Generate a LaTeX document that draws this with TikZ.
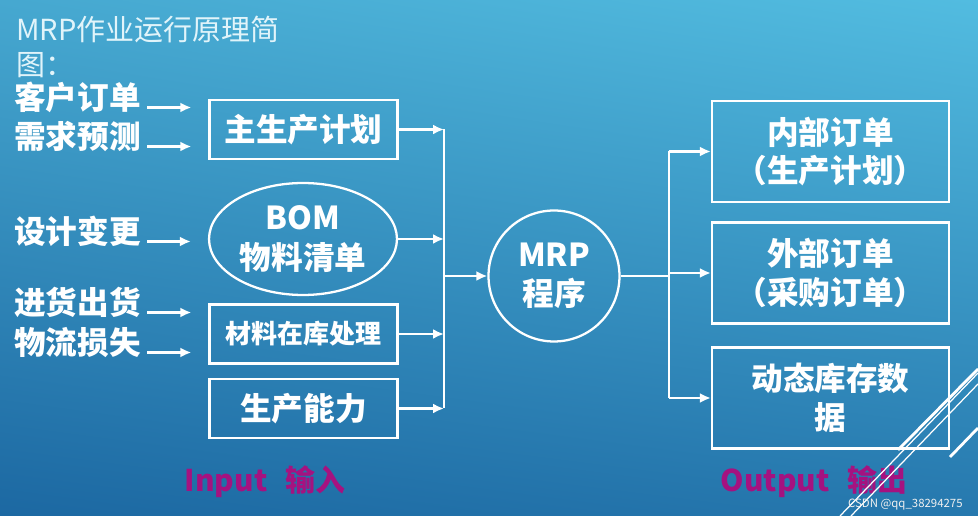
\documentclass[tikz,border=0pt]{standalone}
\usepackage{fontspec}
\setmainfont{Noto Sans CJK SC}
\usetikzlibrary{arrows.meta,shapes.geometric,shadings,positioning}
\definecolor{bgul}{RGB}{70,168,208}
\definecolor{bgur}{RGB}{82,188,224}
\definecolor{bgll}{RGB}{28,104,162}
\definecolor{bglr}{RGB}{38,120,174}
\definecolor{inout}{RGB}{165,18,128}
\definecolor{titlecol}{RGB}{225,244,250}

\begin{document}
\begin{tikzpicture}[x=0.02cm,y=-0.02cm,
    every node/.style={text=white},
    lbl/.style={inner sep=0pt,font=\bfseries\fontsize{18}{20}\selectfont},
    blk/.style={draw=white,line width=1.3pt,minimum width=3.76cm,minimum height=1.18cm,
      inner sep=0pt,align=center,font=\bfseries\fontsize{18}{23}\selectfont},
    outblk/.style={blk,minimum width=4.74cm,minimum height=2.02cm,
      font=\bfseries\fontsize{18}{22}\selectfont},
    arr/.style={draw=white,line width=1.3pt,-{Latex[length=2.2mm,width=2mm]}},
    wire/.style={draw=white,line width=1.3pt},
    side/.style={text=inout,font=\bfseries\fontsize{17}{20}\selectfont}]
  \shade[upper left=bgul,upper right=bgur,lower left=bgll,lower right=bglr]
    (0,0) rectangle (978,516);
  \useasboundingbox (0,0) rectangle (978,516);

  \node[anchor=north west,align=left,inner sep=0pt,text=titlecol,
    font=\fontsize{16.5}{19.5}\selectfont] (title) at (16,16) {MRP作业运行原理简\\图：};

  % inputs
  \node[lbl,anchor=base west] (ord) at (14,110) {客户订单};
  \node[lbl,anchor=base west] (fc) at (14,149) {需求预测};
  \node[lbl,anchor=base west] (chg) at (14,244) {设计变更};
  \node[lbl,anchor=base west] (ship) at (14,315) {进货出货};
  \node[lbl,anchor=base west] (loss) at (14,355) {物流损失};

  \node[blk] (mps) at (303.5,129.5) {主生产计划};
  \node[blk,ellipse,minimum height=2.24cm] (bom) at (303,239) {BOM\\物料清单};
  \node[blk,font=\bfseries\fontsize{14.8}{16}\selectfont] (stock) at (303.5,334) {材料在库处理};
  \node[blk] (cap) at (303.5,408.5) {生产能力};

  \begin{scope}[shorten >=0.34cm]
    \draw[arr] ([xshift=1.2mm,yshift=0.5mm]ord.base east) -- ([yshift=0.5mm]ord.base east -| mps.west);
    \draw[arr] ([xshift=1.2mm,yshift=0.5mm]fc.base east) -- ([yshift=0.5mm]fc.base east -| mps.west);
    \draw[arr] ([xshift=1.2mm,yshift=0.5mm]chg.base east) -- ([yshift=0.5mm]chg.base east -| bom.west);
    \draw[arr] ([xshift=1.2mm,yshift=0.5mm]ship.base east) -- ([yshift=0.5mm]ship.base east -| stock.west);
    \draw[arr] ([xshift=1.2mm,yshift=0.5mm]loss.base east) -- ([yshift=0.5mm]loss.base east -| stock.west);
  \end{scope}

  \node[draw=white,circle,line width=1.3pt,minimum size=2.62cm,inner sep=0pt,align=center,
    font=\bfseries\fontsize{18}{22}\selectfont] (mrp) at (554,276) {MRP\\程序};

  \coordinate (lbus) at (444,276);
  \foreach \n in {mps,bom,stock,cap}
    \draw[arr] (\n.east) -- (\n.east -| lbus);
  \draw[wire] (mps.east -| lbus) -- (cap.east -| lbus);
  \draw[arr] (lbus) -- (mrp.west);

  % outputs
  \node[outblk] (po) at (830.5,151.5) {内部订单\\（生产计划）};
  \node[outblk] (so) at (830.5,273) {外部订单\\（采购订单）};
  \node[outblk] (dyn) at (830.5,398) {动态库存数\\据};

  \coordinate (rbus) at (669,276);
  \draw[wire] (mrp.east) -- (rbus);
  \draw[wire] (rbus |- po.west) -- (rbus |- dyn.west);
  \foreach \n in {po,so,dyn}
    \draw[arr] (rbus |- \n.west) -- (\n.west);

  \node[side] (in) at (265,482) {Input\hspace{0.6em}输入};
  \node[side] (out) at (814,482) {Output\hspace{0.6em}输出};

  \draw[white,line width=1.6pt] (898,450) -- (978,369);
  \draw[white,line width=0.7pt] (840,516) -- (978,373);
  \draw[white,line width=0.7pt] (851,516) -- (978,384);
  \draw[white,line width=1.6pt] (950,457) -- (978,428);

  \node[anchor=east,inner sep=0pt,text=white!88!gray,
    font=\fontsize{6.5}{7}\selectfont] (csdn) at (963,505) {CSDN @qq\_38294275};
\end{tikzpicture}
\end{document}
